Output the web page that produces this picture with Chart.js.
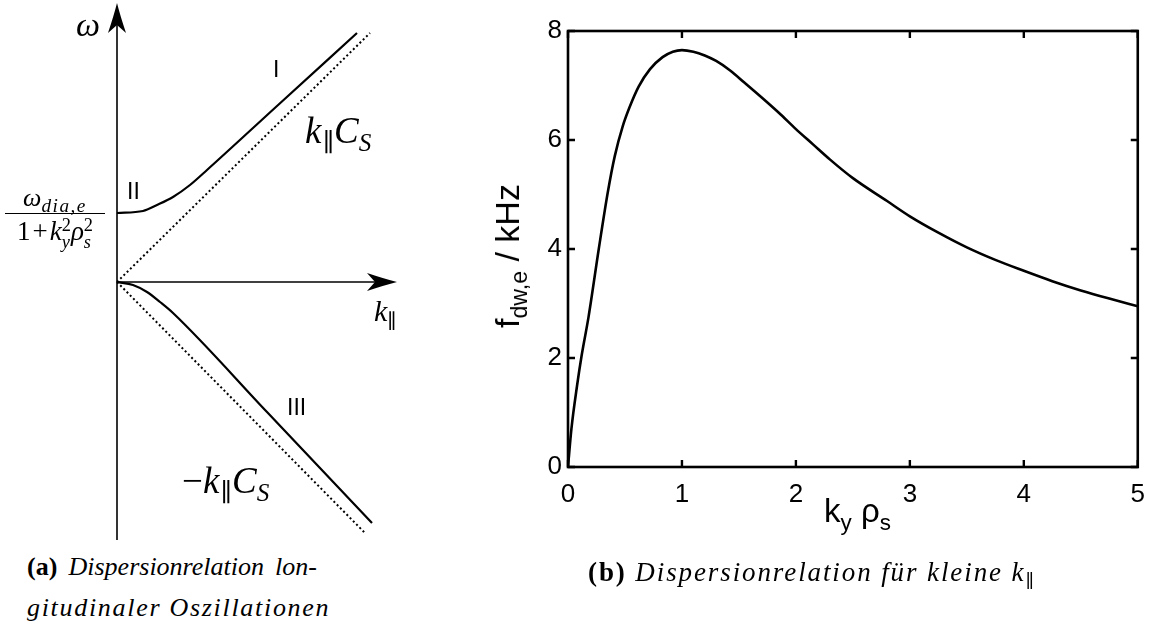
<!DOCTYPE html>
<html>
<head>
<meta charset="utf-8">
<script src="https://cdn.jsdelivr.net/npm/chart.js@4"></script>
<style>
  html, body { margin: 0; padding: 0; background: #fff; }
  #page { position: relative; width: 1157px; height: 623px; overflow: hidden; background: #fff; }
  .abs { position: absolute; white-space: nowrap; color: #000; line-height: 1; }
  .m { font-family: "Liberation Serif", "DejaVu Serif", serif; font-style: italic; }
  .u { font-style: normal; }
  .sans { font-family: "Liberation Sans", Arial, sans-serif; }
  sub, sup { font-size: 0.68em; line-height: 0; }
  .ss { display: inline-block; vertical-align: -0.42em; font-size: 0.68em; line-height: 0.92; text-align: left; }
  .ss span { display: block; }
  .cap { font-family: "Liberation Serif", "DejaVu Serif", serif; font-size: 26px; }
  .cap b { font-style: normal; }
  .cap i { font-style: italic; }
</style>
</head>
<body>
<div id="page">
  <canvas id="left" width="430" height="545" style="position:absolute;left:0;top:0;"></canvas>
  <canvas id="right" width="717" height="560" style="position:absolute;left:440px;top:0;"></canvas>

  <!-- left panel labels -->
  <div class="abs m" style="left:76px;top:8px;font-size:34px;">ω</div>
  <div class="abs sans" style="left:273px;top:58px;font-size:23px;">I</div>
  <div class="abs sans" style="left:127px;top:180px;font-size:23px;">II</div>
  <div class="abs sans" style="left:287px;top:396px;font-size:23px;">III</div>
  <div class="abs m" style="left:305px;top:112px;font-size:37px;">k<sub class="u" style="margin-left:1px;">∥</sub>C<sub>S</sub></div>
  <div class="abs m" style="left:182px;top:462px;font-size:37px;"><span class="u">−</span>k<sub class="u" style="margin-left:1px;">∥</sub>C<sub>S</sub></div>
  <div class="abs m" style="left:374px;top:296px;font-size:30px;">k<sub class="u">∥</sub></div>
  <div class="abs m" style="left:5px;top:185px;width:100px;text-align:center;font-size:26px;">
    <div style="padding-bottom:2px;">ω<sub style="font-size:0.74em;letter-spacing:1.5px;">dia,e</sub></div>
    <div style="border-top:1.4px solid #000;padding-top:3px;font-size:27px;"><span class="u">1<span style="margin:0 2px;">+</span></span>k<span class="ss"><span class="u">2</span><span>y</span></span>ρ<span class="ss"><span class="u">2</span><span>s</span></span></div>
  </div>

  <!-- right panel axis labels -->
  <div class="abs sans" style="left:824px;top:494px;font-size:33px;">k<sub>y</sub> ρ<sub>s</sub></div>
  <div class="abs sans" id="ylab" style="left:507px;top:256px;font-size:34px;transform:translate(-50%,-50%) rotate(-90deg);">f<sub>dw,e</sub> / kHz</div>

  <!-- captions -->
  <div class="abs cap" style="left:27px;top:554px;width:290px;text-align:justify;text-align-last:justify;"><b>(a)</b> <i>Dispersionrelation lon-</i></div>
  <div class="abs cap" style="left:27px;top:595px;letter-spacing:1.7px;"><i>gitudinaler Oszillationen</i></div>
  <div class="abs cap" style="left:588px;top:559px;font-size:27px;letter-spacing:1.9px;"><b>(b)</b> <i>Dispersionrelation für kleine k<sub class="u">∥</sub></i></div>
</div>

<script>
// ---------------- Data: panel (b) ----------------
const kyRho = [0, 0.03, 0.08, 0.12, 0.18, 0.27, 0.35, 0.41, 0.48, 0.54, 0.62, 0.72, 0.83, 0.92, 1.0,
               1.1, 1.2, 1.3, 1.42, 1.55, 1.7, 1.85, 2.0, 2.15, 2.3, 2.5, 2.8, 3.0, 3.25, 3.5,
               3.75, 4.0, 4.25, 4.5, 4.75, 5.0];
const fDwKHz = [0, 0.7, 1.5, 2.05, 2.75, 4.0, 5.05, 5.7, 6.25, 6.6, 6.98, 7.3, 7.52, 7.62, 7.65,
                7.62, 7.55, 7.45, 7.28, 7.05, 6.78, 6.5, 6.2, 5.92, 5.64, 5.3, 4.88, 4.6, 4.3, 4.03,
                3.8, 3.6, 3.41, 3.24, 3.09, 2.95];
const xTicks = [0, 1, 2, 3, 4, 5];
const yTicks = [0, 2, 4, 6, 8];

// ---------------- Data: panel (a) (schematic) ----------------
const branchI_k = [0, 0.26, 0.40, 0.56, 0.73, 0.90, 1.60, 2.40];
const branchI_w = [0.69, 0.71, 0.77, 0.85, 0.97, 1.12, 1.76, 2.49];
const branchIII_k = [0, 0.16, 0.30, 0.43, 0.56, 1.50, 2.55];
const branchIII_w = [0, -0.03, -0.10, -0.20, -0.31, -1.30, -2.41];
const soundPlus_k = [0, 2.53];
const soundPlus_w = [0, 2.49];
const soundMinus_k = [0, 2.48];
const soundMinus_w = [0, -2.51];
const omegaAxis_w = [-2.58, 2.72];
const kAxis_k = [0, 2.74];
const arrowTips = { omega: [0, 2.79], k: [2.80, 0] };

const zip = (xs, ys) => xs.map((x, i) => ({ x: x, y: ys[i] }));

// ---------------- Panel (a) ----------------
const arrowPlugin = {
  id: 'arrows',
  afterDatasetsDraw(chart) {
    const ctx = chart.ctx, xs = chart.scales.x, ys = chart.scales.y;
    function head(tx, ty, dir) {
      const px = xs.getPixelForValue(tx), py = ys.getPixelForValue(ty);
      ctx.save();
      ctx.translate(px, py);
      ctx.rotate(dir);
      ctx.beginPath();
      ctx.moveTo(0, 0);
      ctx.quadraticCurveTo(-12, 3, -30, 9);
      ctx.lineTo(-22, 0);
      ctx.lineTo(-30, -9);
      ctx.quadraticCurveTo(-12, -3, 0, 0);
      ctx.closePath();
      ctx.fillStyle = '#000';
      ctx.fill();
      ctx.restore();
    }
    head(arrowTips.omega[0], arrowTips.omega[1], -Math.PI / 2);
    head(arrowTips.k[0], arrowTips.k[1], 0);
  }
};

new Chart(document.getElementById('left'), {
  type: 'line',
  data: {
    datasets: [
      { data: zip([0, 0], omegaAxis_w), borderColor: '#000', borderWidth: 1.6 },
      { data: zip(kAxis_k, [0, 0]), borderColor: '#000', borderWidth: 1.6 },
      { data: zip(soundPlus_k, soundPlus_w), borderColor: '#000', borderWidth: 2, borderDash: [2, 2.6] },
      { data: zip(soundMinus_k, soundMinus_w), borderColor: '#000', borderWidth: 2, borderDash: [2, 2.6] },
      { data: zip(branchI_k, branchI_w), borderColor: '#000', borderWidth: 2.2, cubicInterpolationMode: 'monotone' },
      { data: zip(branchIII_k, branchIII_w), borderColor: '#000', borderWidth: 2.2, cubicInterpolationMode: 'monotone' }
    ]
  },
  options: {
    responsive: false,
    devicePixelRatio: 1,
    animation: false,
    events: [],
    layout: { padding: 0 },
    elements: { point: { radius: 0 }, line: { borderCapStyle: 'butt' } },
    plugins: { legend: { display: false }, tooltip: { enabled: false } },
    scales: {
      x: { type: 'linear', display: false, min: -1.17, max: 3.13 },
      y: { type: 'linear', display: false, min: -2.63, max: 2.82 }
    }
  },
  plugins: [arrowPlugin]
});

// ---------------- Panel (b) ----------------
const framePlugin = {
  id: 'frame',
  afterDatasetsDraw(chart) {
    const ctx = chart.ctx, a = chart.chartArea, xs = chart.scales.x, ys = chart.scales.y;
    const L = 7;
    ctx.save();
    ctx.strokeStyle = '#000';
    ctx.lineWidth = 2.4;
    ctx.beginPath();
    xTicks.forEach(v => {
      const p = xs.getPixelForValue(v);
      ctx.moveTo(p, a.bottom); ctx.lineTo(p, a.bottom - L);
      ctx.moveTo(p, a.top); ctx.lineTo(p, a.top + L);
    });
    yTicks.forEach(v => {
      const p = ys.getPixelForValue(v);
      ctx.moveTo(a.left, p); ctx.lineTo(a.left + L, p);
      ctx.moveTo(a.right, p); ctx.lineTo(a.right - L, p);
    });
    ctx.stroke();
    ctx.lineWidth = 2.6;
    ctx.strokeRect(a.left, a.top, a.right - a.left, a.bottom - a.top);
    ctx.restore();
  }
};

new Chart(document.getElementById('right'), {
  type: 'line',
  data: {
    datasets: [{
      data: zip(kyRho, fDwKHz),
      borderColor: '#000',
      borderWidth: 2.6,
      pointRadius: 0,
      cubicInterpolationMode: 'monotone'
    }]
  },
  options: {
    responsive: false,
    devicePixelRatio: 1,
    animation: false,
    events: [],
    layout: { padding: { top: 31, right: 16, left: 0, bottom: 0 } },
    plugins: { legend: { display: false }, tooltip: { enabled: false } },
    scales: {
      x: {
        type: 'linear', min: 0, max: 5,
        afterBuildTicks: s => { s.ticks = xTicks.map(v => ({ value: v })); },
        afterFit: s => { s.height = 93; },
        grid: { display: false, drawTicks: false },
        border: { display: false },
        ticks: { color: '#000', padding: 12, maxRotation: 0, font: { family: 'Liberation Sans', size: 26 } }
      },
      y: {
        type: 'linear', min: 0, max: 8,
        afterBuildTicks: s => { s.ticks = yTicks.map(v => ({ value: v })); },
        afterFit: s => { s.width = 128; },
        grid: { display: false, drawTicks: false },
        border: { display: false },
        ticks: { color: '#000', padding: 6, font: { family: 'Liberation Sans', size: 26 } }
      }
    }
  },
  plugins: [framePlugin]
});
</script>
</body>
</html>
